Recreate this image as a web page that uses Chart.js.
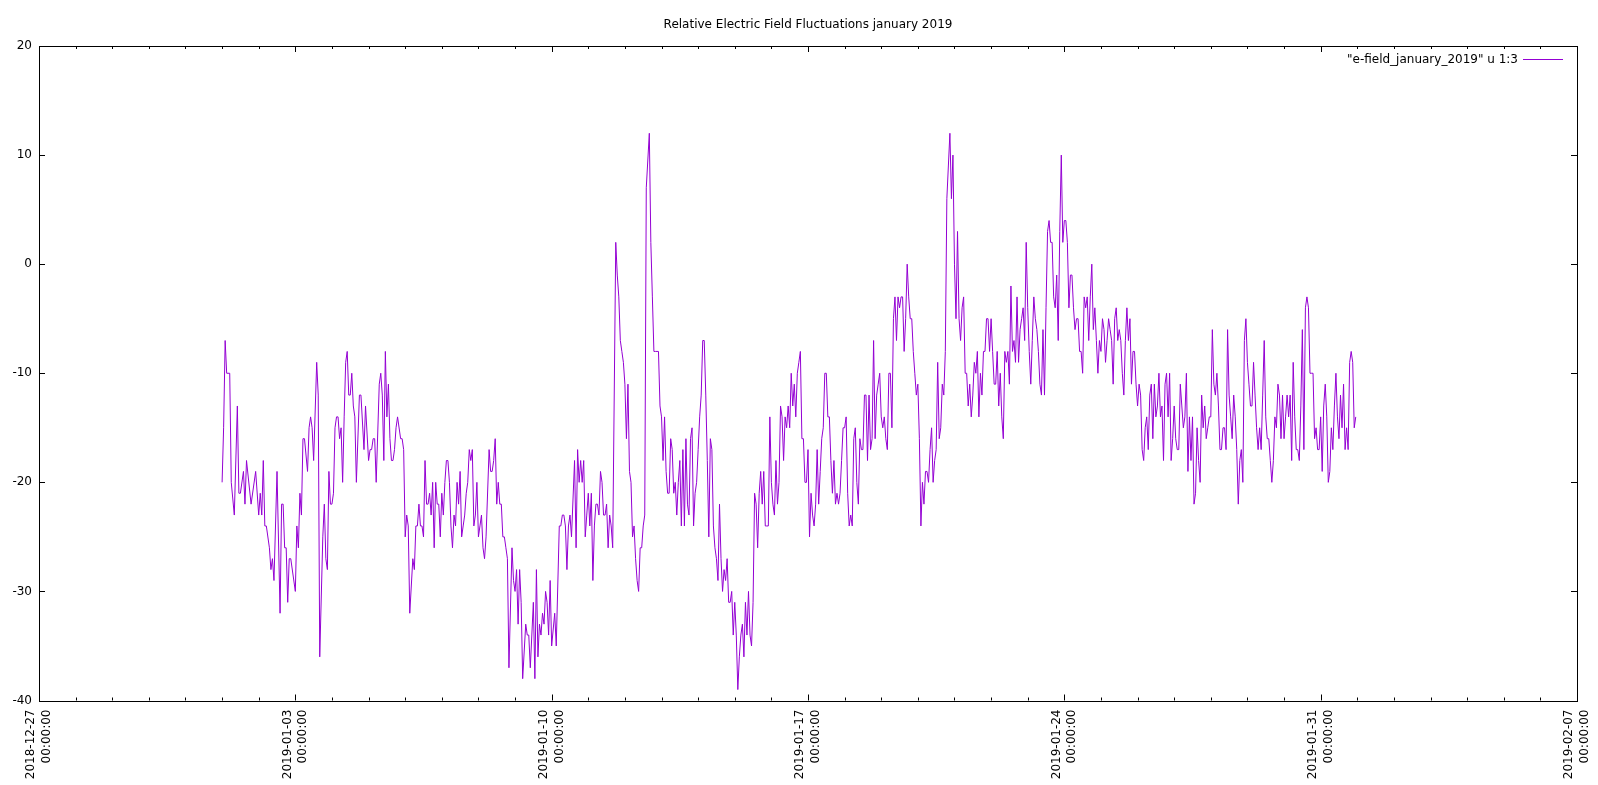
<!DOCTYPE html>
<html>
<head>
<meta charset="utf-8">
<script src="https://cdn.jsdelivr.net/npm/chart.js@4.4.1/dist/chart.umd.min.js"></script>
<style>
  html, body { margin: 0; padding: 0; background: #fff; }
  canvas { display: block; }
</style>
</head>
<body>
<canvas id="c" width="1598" height="785"></canvas>
<script>
// ---- Data: [hours since 2019-01-01 00:00, relative field value] ----
const segJan01 = [[0,-20],[1,-15],[2,-7],[3,-10],[5,-10],[6,-20],[8,-23],[10,-13],[11,-21],[12,-21],[14,-19],[15,-22],[16,-18],[19,-22],[22,-19],[24,-23],[25,-21],[26,-23],[27,-18],[28,-24],[29,-24],[31,-26],[32,-28],[33,-27],[34,-29],[36,-19],[38,-32],[39,-22],[40,-22],[41,-26],[42,-26],[43,-31],[44,-27],[45,-27],[48,-30],[49,-24],[50,-26],[51,-21],[52,-23],[53,-16],[54,-16],[56,-19],[57,-15],[58,-14],[59,-15],[60,-18],[62,-9],[63,-12],[64,-36],[66,-25],[67,-22],[68,-27],[69,-28],[70,-19],[71,-22],[72,-22],[73,-21],[74,-15],[75,-14],[76,-14],[77,-16],[78,-15],[79,-20],[80,-14],[81,-9],[82,-8]];
const segJan04 = [[83,-12],[84,-12],[85,-10],[86,-13],[87,-14],[88,-20],[90,-12],[91,-12],[93,-17],[94,-13],[96,-18],[97,-17],[98,-17],[99,-16],[100,-16],[101,-20],[103,-11],[104,-10],[105,-12],[106,-18],[107,-8],[108,-14],[109,-11],[110,-16],[111,-18],[112,-18],[113,-17],[114,-15],[115,-14],[117,-16],[118,-16],[119,-17],[120,-25],[121,-23],[122,-24],[123,-32],[125,-27],[126,-28],[127,-24],[128,-24],[129,-22],[130,-24],[131,-24],[132,-25],[133,-18],[134,-22],[135,-22],[136,-21],[137,-23],[138,-20],[139,-26],[140,-20],[141,-22],[142,-22],[143,-25],[144,-21],[145,-23],[146,-20],[147,-18],[148,-18],[149,-20],[150,-24],[151,-26],[152,-23],[153,-24],[154,-20],[155,-22],[156,-19],[157,-25],[158,-24],[159,-23],[160,-21],[161,-20],[162,-17],[163,-18],[164,-17],[165,-24],[166,-23],[167,-20],[168,-25],[169,-24],[170,-23],[171,-26],[172,-27],[173,-25],[175,-17],[176,-19],[177,-19],[178,-18],[179,-16]];
const segJan08 = [[180,-22],[181,-20],[182,-22],[183,-22],[184,-25],[185,-25],[186,-26],[187,-27],[188,-37],[190,-26],[191,-29],[192,-30],[193,-28],[194,-33],[195,-28],[196,-31],[197,-38],[199,-33],[200,-34],[201,-34],[202,-37],[204,-31],[205,-38],[206,-28],[207,-36],[208,-33],[209,-34],[210,-32],[211,-33],[212,-30],[213,-31],[214,-34],[215,-29],[216,-35],[218,-32],[219,-35],[221,-24],[222,-24],[223,-23],[224,-23],[225,-24],[226,-28],[227,-24],[228,-23],[229,-25],[231,-18],[232,-26],[233,-17],[234,-20],[235,-18],[236,-20],[237,-18],[238,-25],[239,-23],[240,-21],[241,-24],[242,-21],[243,-29],[244,-24],[245,-22],[246,-22],[247,-23],[248,-19],[249,-20],[250,-23],[251,-23],[252,-22],[253,-26],[254,-23],[255,-24],[256,-26],[258,2],[259,-1],[260,-3],[261,-7],[262,-8],[263,-9],[264,-11],[265,-16],[266,-11],[267,-19],[268,-20],[269,-25],[270,-24],[271,-27],[272,-29],[273,-30]];
const segJan12 = [[274,-26],[275,-26],[276,-24],[277,-23],[278,7],[280,12],[281,2],[282,-3],[283,-8],[284,-8],[286,-8],[287,-13],[288,-14],[289,-18],[290,-14],[291,-19],[292,-21],[293,-21],[294,-16],[295,-17],[296,-21],[297,-20],[298,-23],[299,-20],[300,-18],[301,-24],[302,-17],[303,-24],[304,-16],[305,-22],[306,-23],[307,-16],[308,-15],[309,-24],[310,-21],[311,-20],[312,-17],[313,-14],[314,-12],[315,-7],[316,-7],[317,-12],[318,-18],[319,-25],[320,-16],[321,-17],[322,-24],[323,-26],[324,-27],[325,-29],[326,-22],[327,-27],[328,-30],[329,-28],[330,-29],[331,-27],[332,-31],[333,-31],[334,-30],[335,-34],[336,-31],[337,-34],[338,-39],[339,-36],[340,-34],[341,-33],[342,-36],[343,-31],[344,-34],[345,-30],[346,-34],[347,-35],[348,-31],[349,-21],[350,-22],[351,-26],[352,-21],[353,-19],[354,-22],[355,-19],[356,-24],[357,-24],[358,-24],[359,-14],[360,-20],[361,-22],[362,-23],[363,-18],[364,-22],[365,-20],[366,-13],[367,-14],[368,-18],[369,-14]];
const segJan16 = [[370,-15],[371,-13],[372,-15],[373,-10],[374,-13],[375,-11],[376,-14],[377,-10],[378,-9],[379,-8],[380,-16],[381,-16],[382,-20],[383,-20],[384,-17],[385,-25],[386,-21],[387,-23],[388,-24],[389,-22],[390,-17],[391,-22],[392,-19],[393,-16],[394,-15],[395,-10],[396,-10],[397,-14],[398,-14],[399,-18],[400,-21],[401,-18],[402,-22],[403,-21],[404,-22],[405,-21],[406,-18],[407,-15],[408,-15],[409,-14],[410,-21],[411,-24],[412,-23],[413,-24],[414,-16],[415,-15],[416,-20],[417,-22],[418,-16],[419,-17],[420,-17],[421,-12],[422,-12],[423,-18],[424,-12],[425,-17],[426,-16],[427,-7],[428,-16],[429,-12],[430,-11],[431,-10],[432,-14],[433,-15],[434,-14],[435,-16],[436,-17],[437,-10],[438,-10],[439,-15],[440,-5],[441,-3],[442,-7],[443,-3],[444,-4],[445,-3],[446,-3],[447,-8],[448,-5],[449,0],[450,-3],[451,-5],[452,-5],[453,-8],[454,-10],[455,-12],[456,-11],[457,-16],[458,-24],[459,-20],[460,-22],[461,-19],[462,-19],[463,-20],[464,-17]];
const segJan20 = [[465,-15],[466,-20],[467,-18],[468,-17],[469,-9],[470,-16],[471,-15],[472,-11],[473,-12],[474,-8],[475,6],[476,9],[477,12],[478,6],[479,10],[480,0],[481,-5],[482,3],[483,-5],[484,-7],[485,-4],[486,-3],[487,-10],[488,-10],[489,-13],[490,-11],[491,-14],[492,-12],[493,-9],[494,-10],[495,-8],[496,-14],[497,-10],[498,-12],[499,-8],[500,-8],[501,-5],[502,-5],[503,-8],[504,-5],[505,-8],[506,-11],[507,-11],[508,-8],[509,-13],[510,-10],[511,-14],[512,-16],[513,-8],[514,-9],[515,-8],[516,-11],[517,-2],[518,-8],[519,-7],[520,-9],[521,-3],[522,-9],[523,-6],[524,-5],[525,-4],[526,-7],[527,2],[528,-4],[529,-8],[530,-11],[531,-7],[532,-3],[533,-5],[534,-6],[535,-8],[536,-11],[537,-12],[538,-6],[539,-12],[540,-4],[541,3],[542,4],[543,2],[544,2],[545,-3],[546,-4],[547,-1],[548,-7],[549,3],[550,10],[551,2],[552,4],[553,4],[554,2],[555,-4],[556,-1],[557,-1],[558,-4],[559,-6]];
const segJan24 = [[560,-5],[561,-5],[562,-8],[563,-8],[564,-10],[565,-3],[566,-4],[567,-3],[568,-7],[569,-3],[570,0],[571,-6],[572,-4],[573,-7],[574,-10],[575,-7],[576,-8],[577,-5],[578,-6],[579,-9],[580,-7],[581,-5],[582,-6],[583,-7],[584,-11],[585,-5],[586,-4],[587,-7],[588,-6],[589,-7],[590,-10],[591,-12],[592,-7],[593,-4],[594,-7],[595,-5],[596,-11],[597,-8],[598,-8],[599,-11],[600,-13],[601,-11],[602,-12],[603,-17],[604,-18],[605,-15],[606,-14],[607,-17],[608,-12],[609,-11],[610,-16],[611,-11],[612,-14],[613,-13],[614,-10],[615,-14],[616,-13],[617,-18],[618,-11],[619,-10],[620,-14],[621,-10],[622,-18],[623,-16],[624,-13],[625,-16],[626,-17],[627,-17],[628,-11],[629,-13],[630,-15],[631,-14],[632,-10],[633,-19],[634,-14],[635,-18],[636,-14],[637,-22],[638,-21],[639,-15],[640,-18],[641,-20],[642,-12],[643,-15],[644,-13],[645,-16],[646,-15],[647,-14],[648,-14],[649,-6],[650,-11],[651,-12]];
const segJan28 = [[652,-10],[653,-13],[654,-17],[655,-17],[656,-15],[657,-15],[658,-17],[659,-6],[660,-12],[661,-14],[662,-16],[663,-12],[664,-14],[665,-17],[666,-22],[667,-18],[668,-17],[669,-20],[670,-7],[671,-5],[672,-9],[673,-11],[674,-13],[675,-13],[676,-9],[677,-12],[678,-15],[679,-17],[680,-15],[681,-17],[682,-12],[683,-7],[684,-14],[685,-16],[686,-16],[687,-18],[688,-20],[689,-18],[690,-14],[691,-15],[692,-11],[693,-12],[694,-16],[695,-12],[696,-16],[697,-14],[698,-12],[699,-14],[700,-12],[701,-18],[702,-9],[703,-14],[704,-17],[705,-17],[706,-18],[707,-13],[708,-6],[709,-17],[710,-4],[711,-3],[712,-4],[713,-10],[714,-10],[715,-10],[716,-16],[717,-15],[718,-17],[719,-17],[720,-14],[721,-19],[722,-13],[723,-11],[724,-14],[725,-20],[726,-19],[727,-15],[728,-17],[729,-13],[730,-10],[731,-14],[732,-16],[733,-12],[734,-15],[735,-11],[736,-17],[737,-15],[738,-17],[739,-9],[740,-8],[741,-9],[742,-15],[743,-14]];

const segments = [segJan01, segJan04, segJan08, segJan12, segJan16, segJan20, segJan24, segJan28];

// axis: days since 2018-12-27 00:00
const dataStartDay = 5;          // 2019-01-01
const xMinDay = 0, xMaxDay = 42, xMajorStep = 7;
const yTicks = [-40, -30, -20, -10, 0, 10, 20];
const titleText = 'Relative Electric Field Fluctuations january 2019';
const legendText = '"e-field_january_2019" u 1:3';
const lineColor = '#9400d3';

const points = [];
segments.forEach(seg => seg.forEach(([h, v]) => points.push({ x: dataStartDay + h / 24, y: v })));

function dayLabel(d) {
  const t = new Date(Date.UTC(2018, 11, 27) + Math.round(d) * 86400000);
  const p = n => String(n).padStart(2, '0');
  return [t.getUTCFullYear() + '-' + p(t.getUTCMonth() + 1) + '-' + p(t.getUTCDate()), '00:00:00'];
}

Chart.defaults.font.family = "'DejaVu Sans', sans-serif";
Chart.defaults.font.size = 12;
Chart.defaults.color = '#000';

const framePlugin = {
  id: 'frame',
  afterDraw(chart) {
    const { ctx, chartArea: a, scales: { x, y } } = chart;
    ctx.save();
    ctx.strokeStyle = '#000';
    ctx.lineWidth = 1;
    ctx.beginPath();
    for (let d = xMinDay; d <= xMaxDay; d++) {
      const px = Math.round(x.getPixelForValue(d)) + 0.5;
      const len = d % xMajorStep === 0 ? 6 : 3;
      ctx.moveTo(px, a.bottom); ctx.lineTo(px, a.bottom - len);
      ctx.moveTo(px, a.top); ctx.lineTo(px, a.top + len);
    }
    yTicks.forEach(v => {
      const py = Math.round(y.getPixelForValue(v)) + 0.5;
      ctx.moveTo(a.left, py); ctx.lineTo(a.left + 6, py);
      ctx.moveTo(a.right, py); ctx.lineTo(a.right - 6, py);
    });
    ctx.stroke();
    ctx.strokeRect(Math.round(a.left) + 0.5, Math.round(a.top) + 0.5,
                   Math.round(a.right - a.left), Math.round(a.bottom - a.top));
    // key (legend) inside the plot, top right
    ctx.font = "12px 'DejaVu Sans', sans-serif";
    ctx.fillStyle = '#000';
    ctx.textAlign = 'right';
    ctx.textBaseline = 'middle';
    ctx.fillText(legendText, a.right - 59, a.top + 13.5);
    ctx.strokeStyle = lineColor;
    ctx.beginPath();
    ctx.moveTo(a.right - 54, a.top + 13.5);
    ctx.lineTo(a.right - 14, a.top + 13.5);
    ctx.stroke();
    ctx.restore();
  }
};

new Chart(document.getElementById('c'), {
  type: 'line',
  data: {
    datasets: [{
      label: legendText,
      data: points,
      borderColor: lineColor,
      borderWidth: 1,
      pointRadius: 0,
      tension: 0,
      fill: false
    }]
  },
  options: {
    responsive: false,
    animation: false,
    layout: { autoPadding: false, padding: { left: 0, right: 21, top: 0, bottom: 0 } },
    plugins: {
      legend: { display: false },
      tooltip: { enabled: false },
      title: {
        display: true,
        fullSize: false,
        text: titleText,
        color: '#000',
        font: { size: 12, weight: 'normal' },
        lineHeight: 1.2,
        padding: { top: 17.3, bottom: 14.3 }
      }
    },
    scales: {
      x: {
        type: 'linear',
        min: xMinDay,
        max: xMaxDay,
        grid: { display: false, drawTicks: false },
        border: { display: false },
        ticks: {
          stepSize: xMajorStep,
          autoSkip: false,
          maxRotation: 90,
          minRotation: 90,
          padding: 9,
          labelOffset: -7.8,
          font: { size: 12, lineHeight: 1.3 },
          color: '#000',
          callback: v => dayLabel(v)
        },
        afterFit: s => { s.height = 84.5; s.paddingLeft = 0; s.paddingRight = 0; }
      },
      y: {
        min: yTicks[0],
        max: yTicks[yTicks.length - 1],
        grid: { display: false, drawTicks: false },
        border: { display: false },
        ticks: { stepSize: 10, padding: 7, color: '#000' },
        afterFit: s => { s.width = 39; s.paddingTop = 0; s.paddingBottom = 0; }
      }
    }
  },
  plugins: [framePlugin]
});
</script>
</body>
</html>
